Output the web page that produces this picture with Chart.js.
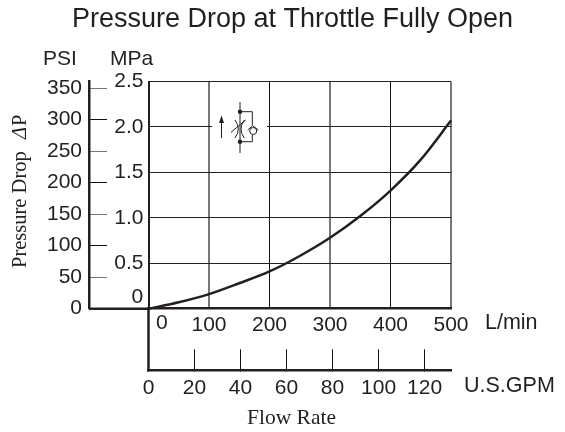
<!DOCTYPE html>
<html>
<head>
<meta charset="utf-8">
<style>
  html, body { margin: 0; padding: 0; background: #fff; }
  canvas { display: block; }
</style>
<script src="https://cdn.jsdelivr.net/npm/chart.js@4/dist/chart.umd.min.js"></script>
</head>
<body>
<canvas id="mainChart" width="565" height="432"></canvas>
<script>
// Curve
const flowLpm = [0, 50, 100, 150, 200, 250, 300, 350, 400, 450, 500];
const dropMpa = [0, 0.07, 0.16, 0.28, 0.41, 0.58, 0.78, 1.02, 1.30, 1.64, 2.07];

// Tick labels
const lpmTicks = [0, 100, 200, 300, 400, 500];
const gpmTicks = [0, 20, 40, 60, 80, 100, 120];
const mpaTicks = [0, 0.5, 1.0, 1.5, 2.0, 2.5];
const psiTicks = [0, 50, 100, 150, 200, 250, 300, 350];

const chartTitle = 'Pressure Drop at Throttle Fully Open';
const INK = '#231f20';
const GREY = '#77777a';
const SANS = 'Liberation Sans';
const SERIF = 'Liberation Serif';

function useTicks(values) {
    return scale => { scale.ticks = values.map(v => ({ value: v })); };
}

// Text that does not sit on a tick or is not centred on an axis
const freeLabels = [
    { text: 'PSI', x: 43, y: 59, font: `21px "${SANS}"` },
    { text: 'MPa', x: 110, y: 59, font: `21px "${SANS}"` },
    { text: 'L/min', x: 485, y: 323, font: `21.5px "${SANS}"` },
    { text: 'U.S.GPM', x: 464, y: 386, font: `21.5px "${SANS}"` },
    { text: '0', x: 156, y: 323, font: `21px "${SANS}"` },
    { text: '0', x: 131.5, y: 297, font: `21px "${SANS}"` },
    { text: 'Flow Rate', x: 247, y: 418, font: `21.5px "${SERIF}"` }
];

const decorations = {
    id: 'decorations',
    beforeDatasetsDraw(chart) {
        // gap in the 2.0 line around the circuit symbol
        chart.ctx.fillStyle = '#fff';
        chart.ctx.fillRect(212, 120, 55, 14);
    },
    afterDraw(chart) {
        const { ctx, scales } = chart;
        const left = scales.x.left;
        const base = scales.y.getPixelForValue(0);
        ctx.save();
        ctx.strokeStyle = INK;
        ctx.fillStyle = INK;

        // axis pieces that join the two left axes and the two bottom axes
        ctx.lineWidth = 2.5;
        ctx.beginPath();
        ctx.moveTo(scales.psi.right, base);
        ctx.lineTo(left, base);
        ctx.moveTo(left, base);
        ctx.lineTo(left, scales.gpm.top + 1);
        ctx.stroke();

        freeLabels.forEach(l => {
            ctx.font = l.font;
            ctx.textAlign = 'left';
            ctx.textBaseline = 'middle';
            ctx.fillText(l.text, l.x, l.y);
        });

        // rotated axis name, reads upwards from y = 268
        ctx.save();
        ctx.translate(21, 268);
        ctx.rotate(-Math.PI / 2);
        ctx.textAlign = 'left';
        ctx.textBaseline = 'middle';
        ctx.font = `20.5px "${SERIF}"`;
        ctx.fillText('Pressure Drop', 0, 0);
        ctx.fillText('P', 142, 0);
        ctx.font = `italic 20.5px "${SERIF}"`;
        ctx.fillText('\u0394', 129, 0);
        ctx.restore();

        // circuit symbol
        ctx.lineWidth = 1;
        ctx.beginPath();
        ctx.moveTo(221.5, 138); ctx.lineTo(221.5, 120);
        ctx.moveTo(240, 102); ctx.lineTo(240, 153);
        ctx.moveTo(240, 111.7); ctx.lineTo(252.3, 111.7); ctx.lineTo(252.3, 125);
        ctx.moveTo(252.3, 135); ctx.lineTo(252.3, 141.7); ctx.lineTo(240, 141.7);
        ctx.moveTo(231, 132.3); ctx.lineTo(245.7, 120);
        ctx.moveTo(247.7, 130); ctx.lineTo(252.5, 125.7); ctx.lineTo(258.3, 130);
        ctx.moveTo(235, 120); ctx.quadraticCurveTo(241.6, 129, 235, 138);
        ctx.moveTo(244.3, 120); ctx.quadraticCurveTo(237.7, 129, 244.3, 138);
        ctx.stroke();
        ctx.beginPath();
        ctx.arc(253.2, 131, 3.5, 0, Math.PI * 2);
        ctx.stroke();
        ctx.beginPath();
        ctx.moveTo(221.5, 115.5); ctx.lineTo(219, 123); ctx.lineTo(224, 123); ctx.closePath();
        ctx.fill();
        [111.7, 141.7].forEach(y => {
            ctx.beginPath();
            ctx.arc(240, y, 2.2, 0, Math.PI * 2);
            ctx.fill();
        });
        ctx.restore();
    }
};

new Chart(document.getElementById('mainChart').getContext('2d'), {
    type: 'scatter',
    data: {
        datasets: [{
            data: flowLpm.map((v, i) => ({ x: v, y: dropMpa[i] })),
            showLine: true,
            borderColor: INK,
            borderWidth: 2.5,
            cubicInterpolationMode: 'monotone',
            pointRadius: 0,
            clip: false
        }]
    },
    plugins: [decorations],
    options: {
        responsive: false,
        animation: false,
        layout: { padding: { left: 20, right: 0, top: 0, bottom: 0 } },
        plugins: {
            legend: { display: false },
            tooltip: { enabled: false },
            title: {
                display: true,
                text: chartTitle,
                color: INK,
                font: { family: SANS, size: 27, weight: 'normal', lineHeight: 1.2 },
                padding: { top: 3, bottom: 46.1 }
            }
        },
        scales: {
            x: {
                type: 'linear',
                position: 'bottom',
                weight: 0,
                min: 0,
                max: 500,
                afterBuildTicks: useTicks(lpmTicks),
                afterFit: s => { s.height = 61.6; },
                grid: {
                    drawTicks: false,
                    color: c => (c.tick.value % 200 === 0 ? '#111' : GREY),
                    lineWidth: c => (c.tick.value % 200 === 0 ? 1 : 2)
                },
                border: { color: INK, width: 2.5 },
                ticks: {
                    color: INK,
                    padding: 4,
                    maxRotation: 0,
                    autoSkip: false,
                    font: { family: SANS, size: 21 },
                    callback: v => (v === 0 ? '' : v)
                }
            },
            gpm: {
                type: 'linear',
                position: 'bottom',
                weight: 1,
                min: 0,
                max: 131.5,
                afterBuildTicks: useTicks(gpmTicks),
                afterFit: s => { s.height = 61.7; },
                grid: { drawOnChartArea: false, tickLength: -21, tickColor: '#111', tickWidth: 1 },
                border: { color: INK, width: 2.5 },
                ticks: {
                    color: INK,
                    padding: 26,
                    maxRotation: 0,
                    autoSkip: false,
                    font: { family: SANS, size: 21 }
                }
            },
            y: {
                type: 'linear',
                position: 'left',
                weight: 0,
                min: 0,
                max: 2.5,
                afterBuildTicks: useTicks(mpaTicks),
                afterFit: s => { s.width = 59.5; },
                grid: { drawTicks: false, color: '#222', lineWidth: 1 },
                border: { color: INK, width: 2 },
                ticks: {
                    color: INK,
                    padding: 5,
                    font: { family: SANS, size: 21 },
                    callback: v => (v === 0 ? '' : v.toFixed(1))
                }
            },
            psi: {
                type: 'linear',
                position: 'left',
                weight: 1,
                min: 0,
                max: 360.6,
                afterBuildTicks: useTicks(psiTicks),
                afterFit: s => { s.width = 69; },
                grid: {
                    drawOnChartArea: false,
                    tickLength: -18,
                    tickColor: c => (c.tick.value % 100 === 0 ? '#111' : GREY),
                    tickWidth: 1
                },
                border: { color: INK, width: 2.5 },
                ticks: {
                    color: INK,
                    padding: 25,
                    font: { family: SANS, size: 21 }
                }
            },
            // empty axis that keeps the room on the right for the unit labels
            spacer: {
                type: 'linear',
                position: 'right',
                afterFit: s => { s.width = 114; },
                grid: { display: false },
                border: { display: false },
                ticks: { display: false }
            }
        }
    }
});
</script>
</body>
</html>
